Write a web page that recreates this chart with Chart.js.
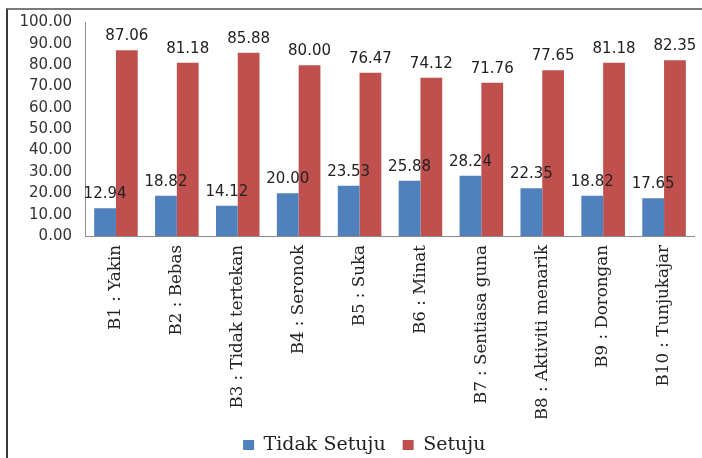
<!DOCTYPE html>
<html lang="ms">
<head>
<meta charset="UTF-8">
<title>Tidak Setuju / Setuju</title>
<script src="https://cdn.jsdelivr.net/npm/chart.js@4.4.1/dist/chart.umd.min.js"></script>
<style>
    body { margin: 0; background: #fff; }
    .wrap { position: relative; width: 702px; height: 458px; overflow: hidden; }
    .frame {
        position: absolute; left: 6px; top: 8px; width: 720px; height: 480px;
        border-top: 2px solid #7a7a7a; border-left: 2px solid #3a3a3a;
        pointer-events: none;
    }
    canvas { position: absolute; left: 0; top: 0; }
</style>
</head>
<body>
<div class="wrap">
    <div class="frame"></div>
    <canvas id="myChart" width="702" height="458"></canvas>
</div>
<script>
    var categories = ['B1 : Yakin', 'B2 : Bebas', 'B3 : Tidak tertekan', 'B4 : Seronok', 'B5 : Suka',
        'B6 : Minat', 'B7 : Sentiasa guna', 'B8 : Aktiviti menarik', 'B9 : Dorongan', 'B10 : Tunjukajar'];
    var tidakSetuju = [12.94, 18.82, 14.12, 20.00, 23.53, 25.88, 28.24, 22.35, 18.82, 17.65];
    var setuju = [87.06, 81.18, 85.88, 80.00, 76.47, 74.12, 71.76, 77.65, 81.18, 82.35];

    var numFont = 'DejaVu Sans';
    var textFont = 'DejaVu Serif';

    // value printed over each bar
    var barValues = {
        id: 'barValues',
        afterDatasetsDraw: function (chart) {
            var ctx = chart.ctx;
            ctx.save();
            ctx.font = '15px "' + numFont + '"';
            ctx.fillStyle = '#222';
            ctx.textAlign = 'center';
            ctx.textBaseline = 'alphabetic';
            chart.data.datasets.forEach(function (ds, i) {
                chart.getDatasetMeta(i).data.forEach(function (bar, j) {
                    ctx.fillText(ds.data[j].toFixed(2), bar.x, bar.y - 10);
                });
            });
            ctx.restore();
        }
    };

    // nudge the legend a little to the right of centre
    var legendShift = {
        id: 'legendShift',
        afterLayout: function (chart) {
            chart.legend.left += 10;
            chart.legend.right += 10;
        }
    };

    var ctx = document.querySelector('#myChart').getContext('2d');
    new Chart(ctx, {
        type: 'bar',
        data: {
            labels: categories,
            datasets: [{
                label: 'Tidak Setuju',
                backgroundColor: '#4f81bd',
                data: tidakSetuju
            }, {
                label: 'Setuju',
                backgroundColor: '#c0504d',
                data: setuju
            }]
        },
        options: {
            responsive: false,
            devicePixelRatio: 1,
            animation: false,
            categoryPercentage: 0.715,
            barPercentage: 1,
            layout: { padding: { top: 20, left: 14, right: 7.5, bottom: -6.5 } },
            plugins: {
                tooltip: { enabled: false },
                legend: {
                    position: 'bottom',
                    labels: {
                        boxWidth: 11,
                        boxHeight: 10,
                        padding: 17,
                        color: '#222',
                        font: { family: textFont, size: 19 }
                    }
                }
            },
            scales: {
                x: {
                    grid: { display: false, drawTicks: false },
                    border: { display: true, color: '#8c8c8c', width: 1 },
                    ticks: {
                        autoSkip: false,
                        maxRotation: 90,
                        minRotation: 90,
                        padding: 9,
                        color: '#222',
                        font: { family: textFont, size: 16.7 }
                    },
                    afterFit: function (s) { s.height = 182.5; }
                },
                y: {
                    min: 0,
                    max: 100,
                    grid: { display: false, drawTicks: false },
                    border: { display: true, color: '#8c8c8c', width: 1 },
                    ticks: {
                        stepSize: 10,
                        padding: 13.5,
                        color: '#333',
                        font: { family: numFont, size: 15 },
                        callback: function (v) { return v.toFixed(2); }
                    },
                    afterFit: function (s) { s.width = 71.5; }
                }
            }
        },
        plugins: [barValues, legendShift]
    });
</script>
</body>
</html>
